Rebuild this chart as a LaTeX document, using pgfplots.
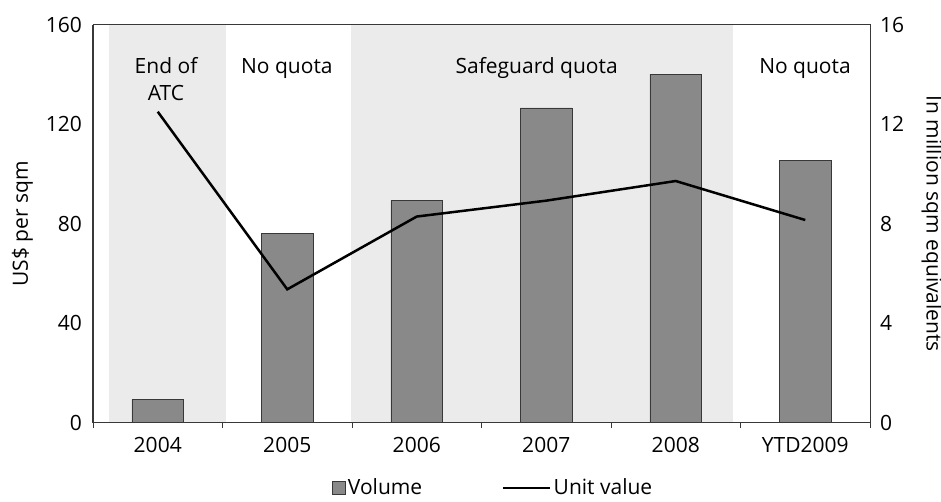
\documentclass[border=0pt]{standalone}
\usepackage{fontspec}
\setmainfont{Open Sans}
\usepackage{pgfplots}
\pgfplotsset{compat=1.18}
\definecolor{band}{HTML}{EBEBEB}
\definecolor{barfill}{HTML}{898989}
\definecolor{axisc}{HTML}{383838}
\pgfplotsset{
  sqlegend/.style={legend image code/.code={\draw[##1] (0pt,-6.5pt) rectangle (13pt,6.5pt);}},
  lnlegend/.style={legend image code/.code={\draw[##1] (0pt,0pt) -- (47pt,0pt);}},
}
\begin{document}
\fontsize{21}{25}\selectfont
\begin{tikzpicture}
\begin{axis}[
  name=ax,
  scale only axis, width=777pt, height=397.5pt,
  xmin=-0.5, xmax=5.5, ymin=0, ymax=16,
  clip=false,
  axis on top,
  axis line style={axisc, line width=1pt},
  xtick={0,1,2,3,4,5},
  xticklabels={2004,2005,2006,2007,2008,YTD2009},
  minor xtick={-0.5,0.5,1.5,2.5,3.5,4.5,5.5},
  major tick length=0pt,
  minor tick length=5pt,
  tick align=outside,
  xtick pos=bottom,
  ytick={0,4,8,12,16},
  ytick pos=right,
  yticklabel pos=right,
  tick style={axisc, line width=1pt},
  /pgf/number format/assume math mode=true,
  xticklabel style={yshift=-8pt},
  yticklabel style={xshift=3pt},
  ylabel={In million sqm equivalents},
  ylabel style={at={(axis description cs:1.0798,0.5)}, anchor=center, rotate=180},
]
\fill[band] (axis cs:-0.376,0) rectangle (axis cs:0.527,16);
\fill[band] (axis cs:1.492,0) rectangle (axis cs:4.442,16);
\addplot[ybar, bar width=51.6pt, fill=barfill, draw=axisc, line width=0.9pt]
  coordinates {(0,0.93) (1,7.59) (2,8.93) (3,12.66) (4,14.02) (5,10.53)};
\node[anchor=base] at (axis cs:0.064,14.06) {End of};
\node[anchor=base] at (axis cs:0.064,12.95) {ATC};
\node[anchor=base] at (axis cs:0.997,14.06) {No quota};
\node[anchor=base] at (axis cs:2.926,14.06) {Safeguard quota};
\node[anchor=base] at (axis cs:4.998,14.06) {No quota};
\end{axis}
\begin{axis}[
  scale only axis, width=777pt, height=397.5pt,
  xmin=-0.5, xmax=5.5, ymin=0, ymax=160,
  hide x axis,
  axis y line*=left,
  axis line style={axisc, line width=1pt},
  ytick={0,40,80,120,160},
  major tick length=0pt,
  /pgf/number format/assume math mode=true,
  yticklabel style={xshift=-4pt},
  ylabel={US\$ per sqm},
  ylabel style={at={(axis description cs:-0.0907,0.5)}, anchor=center},
  legend style={at={(axis description cs:0.515,-0.165)}, anchor=center, draw=none, fill=none,
    /tikz/every even column/.append style={column sep=78pt}},
  legend columns=2,
]
\addlegendimage{fill=barfill, draw=axisc, line width=0.9pt, sqlegend}
\addlegendentry{Volume}
\addplot[black, line width=2.5pt, lnlegend]
  coordinates {(0,125.1) (1,53.6) (2,82.9) (3,89.3) (4,97.2) (5,81.5)};
\addlegendentry{Unit value}
\end{axis}
\pgfresetboundingbox
\path ([xshift=-93pt,yshift=-78.5pt]ax.south west) rectangle ([xshift=71pt,yshift=25pt]ax.north east);
\end{tikzpicture}
\end{document}
